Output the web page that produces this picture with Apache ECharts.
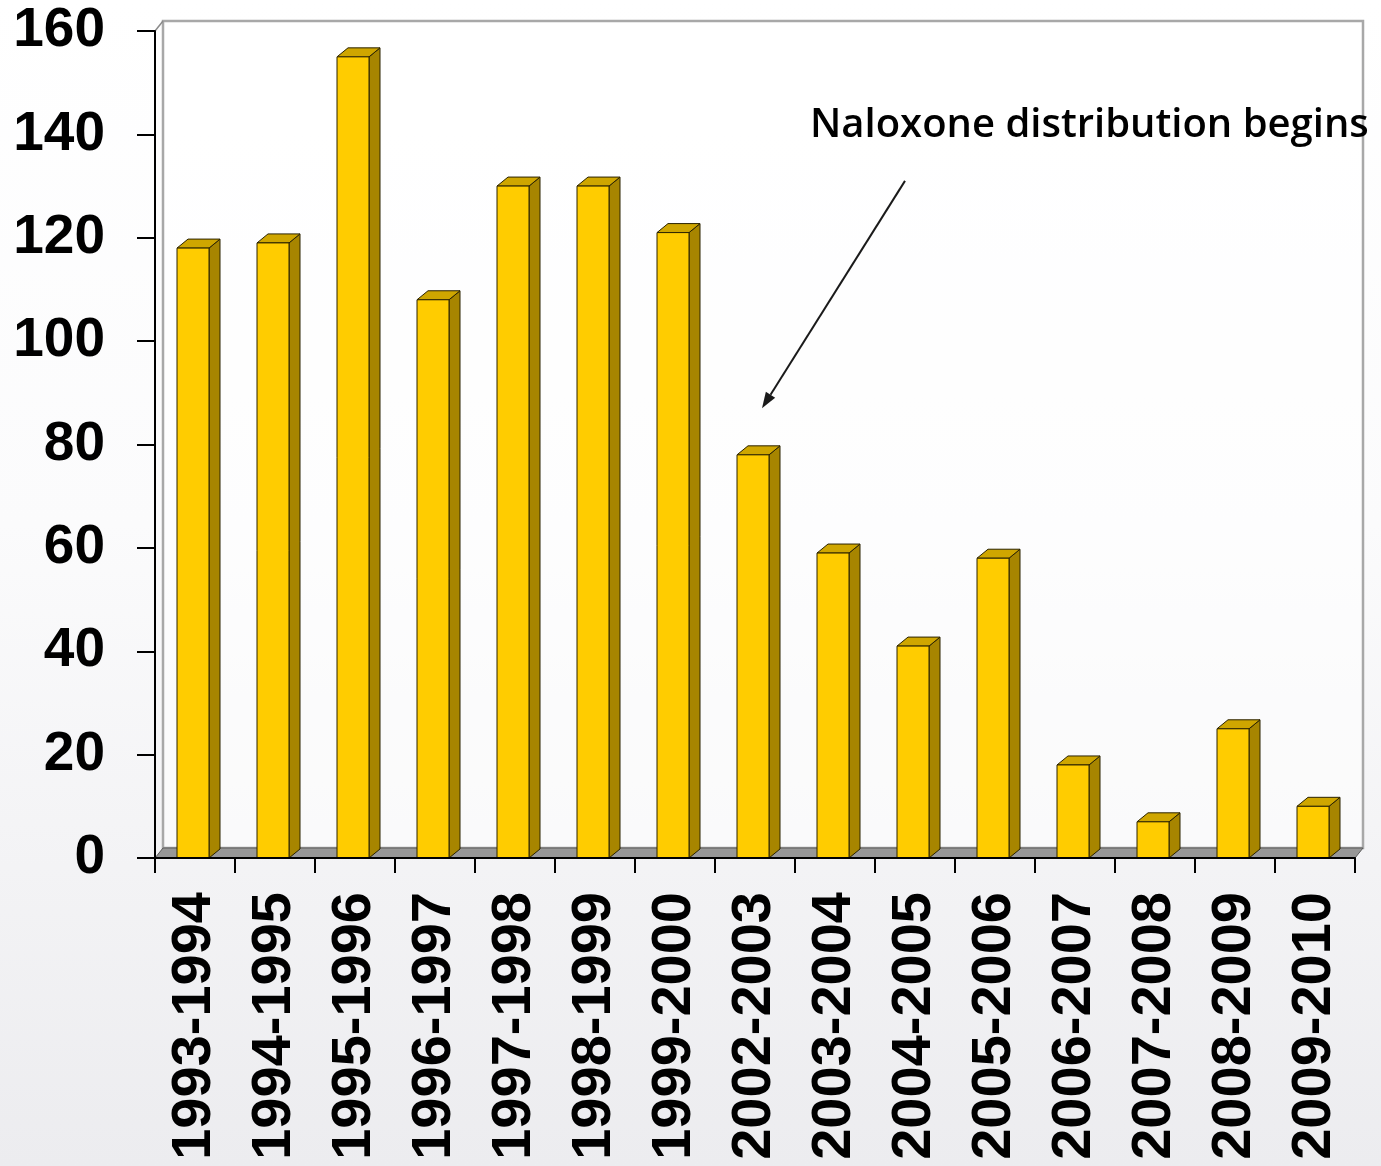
<!DOCTYPE html>
<html>
<head>
<meta charset="utf-8">
<script src="https://cdn.jsdelivr.net/npm/echarts@6/dist/echarts.min.js"></script>
<style>
  html, body { margin: 0; padding: 0; }
  #chart {
    width: 1381px; height: 1166px;
    background: linear-gradient(to bottom, #ffffff 0%, #fbfbfc 45%, #ececef 100%);
  }
</style>
</head>
<body>
<div id="chart"></div>
<script>
// Seasons on the category axis
const seasons = [
  '1993-1994', '1994-1995', '1995-1996', '1996-1997', '1997-1998',
  '1998-1999', '1999-2000', '2002-2003', '2003-2004', '2004-2005',
  '2005-2006', '2006-2007', '2007-2008', '2008-2009', '2009-2010'
];
// Count per season
const counts = [118, 119, 155, 108, 130, 130, 121, 78, 59, 41, 58, 18, 7, 25, 10];
// Value axis ticks
const yTicks = [0, 20, 40, 60, 80, 100, 120, 140, 160];

// Annotation: text, arrow tail and arrow head, given as [category index, value]
const noteText = 'Naloxone distribution begins';
const noteAnchor = [8, 142];
const arrowFrom = [9, 131];
const arrowTo = [7, 87];

// Depth of the pseudo-3D extrusion (pixels)
const DX = 11, DY = -9;
const WALL_DX = 8, WALL_DY = -10;

const chart = echarts.init(document.getElementById('chart'), null, { renderer: 'canvas' });

function renderFrame(params, api) {
  const cs = params.coordSys;
  const x = cs.x, y = cs.y, w = cs.width, h = cs.height;
  const bottom = y + h;
  return {
    type: 'group',
    children: [
      // back wall
      {
        type: 'polygon',
        shape: { points: [[x + WALL_DX, bottom + WALL_DY], [x + WALL_DX, y + WALL_DY], [x + w + WALL_DX, y + WALL_DY], [x + w + WALL_DX, bottom + WALL_DY]] },
        style: { fill: 'rgba(255,255,255,0.55)', stroke: '#a8a8a8', lineWidth: 2.5 }
      },
      // top-left corner edge of the side wall
      {
        type: 'line',
        shape: { x1: x, y1: y, x2: x + WALL_DX, y2: y + WALL_DY },
        style: { stroke: '#8a8a8a', lineWidth: 1.5 }
      },
      // floor
      {
        type: 'polygon',
        shape: { points: [[x, bottom], [x + WALL_DX, bottom + WALL_DY], [x + w + WALL_DX, bottom + WALL_DY], [x + w, bottom]] },
        style: { fill: '#979797', stroke: '#5a5a5a', lineWidth: 1 }
      }
    ]
  };
}

function renderBar(params, api) {
  const idx = api.value(0);
  const val = api.value(1);
  const top = api.coord([idx, val]);
  const base = api.coord([idx, 0]);
  const band = api.size([1, 0])[0];
  const w = band * 0.4;
  const x0 = top[0] - band * 0.225;
  const t = top[1], b = base[1];
  const edge = { stroke: '#2a2200', lineWidth: 1, lineJoin: 'round' };
  return {
    type: 'group',
    children: [
      {
        type: 'polygon',
        shape: { points: [[x0 + w, t], [x0 + w + DX, t + DY], [x0 + w + DX, b + DY], [x0 + w, b]] },
        style: Object.assign({ fill: '#a78500' }, edge)
      },
      {
        type: 'polygon',
        shape: { points: [[x0, t], [x0 + DX, t + DY], [x0 + w + DX, t + DY], [x0 + w, t]] },
        style: Object.assign({ fill: '#cfa600' }, edge)
      },
      {
        type: 'rect',
        shape: { x: x0, y: t, width: w, height: b - t },
        style: Object.assign({ fill: '#ffcc00' }, edge)
      }
    ]
  };
}

chart.setOption({
  backgroundColor: 'transparent',
  animation: false,
  grid: { left: 155, right: 26, top: 31, bottom: 308, containLabel: false },
  xAxis: {
    type: 'category',
    data: seasons,
    boundaryGap: true,
    z: 5,
    axisLine: { lineStyle: { color: '#000', width: 2 } },
    axisTick: { show: true, length: 15, interval: 0, lineStyle: { color: '#000', width: 2 } },
    axisLabel: {
      interval: 0,
      rotate: 90,
      margin: 34,
      color: '#000',
      fontFamily: 'Liberation Sans, Arial, sans-serif',
      fontWeight: 'bold',
      fontSize: 56
    },
    splitLine: { show: false }
  },
  yAxis: {
    type: 'value',
    min: yTicks[0],
    max: yTicks[yTicks.length - 1],
    interval: yTicks[1] - yTicks[0],
    z: 5,
    axisLine: { show: true, lineStyle: { color: '#000', width: 2 } },
    axisTick: { show: true, length: 18, lineStyle: { color: '#000', width: 2 } },
    axisLabel: {
      margin: 50,
      color: '#000',
      fontFamily: 'Liberation Sans, Arial, sans-serif',
      fontWeight: 'bold',
      fontSize: 55
    },
    splitLine: { show: false }
  },
  series: [
    {
      type: 'custom',
      name: 'frame',
      z: 1,
      silent: true,
      renderItem: renderFrame,
      data: [[0, 0]],
      encode: { x: 0, y: 1 }
    },
    {
      type: 'custom',
      name: 'count',
      z: 2,
      renderItem: renderBar,
      data: counts.map((v, i) => [i, v]),
      encode: { x: 0, y: 1 }
    }
  ]
});

// Annotation placed from axis coordinates
const pText = chart.convertToPixel({ gridIndex: 0 }, noteAnchor);
const pFrom = chart.convertToPixel({ gridIndex: 0 }, arrowFrom);
const pTo = chart.convertToPixel({ gridIndex: 0 }, arrowTo);
const fromXY = [pFrom[0] - 10, pFrom[1]];
const toXY = [pTo[0] + 7, pTo[1]];
const ang = Math.atan2(toXY[1] - fromXY[1], toXY[0] - fromXY[0]);
const headLen = 16, headHalf = 5.5;
const back = [toXY[0] - headLen * Math.cos(ang), toXY[1] - headLen * Math.sin(ang)];
const nx = -Math.sin(ang), ny = Math.cos(ang);

chart.setOption({
  graphic: [
    {
      type: 'text',
      z: 100,
      left: pText[0] - 25,
      top: pText[1] - 18,
      style: {
        text: noteText,
        fill: '#000',
        font: '600 40px "Open Sans", "Noto Sans", sans-serif'
      }
    },
    {
      type: 'line',
      z: 100,
      shape: { x1: fromXY[0], y1: fromXY[1], x2: back[0], y2: back[1] },
      style: { stroke: '#1a1a1a', lineWidth: 2 }
    },
    {
      type: 'polygon',
      z: 100,
      shape: {
        points: [
          toXY,
          [back[0] + nx * headHalf, back[1] + ny * headHalf],
          [back[0] - nx * headHalf, back[1] - ny * headHalf]
        ]
      },
      style: { fill: '#1a1a1a' }
    }
  ]
});
</script>
</body>
</html>
